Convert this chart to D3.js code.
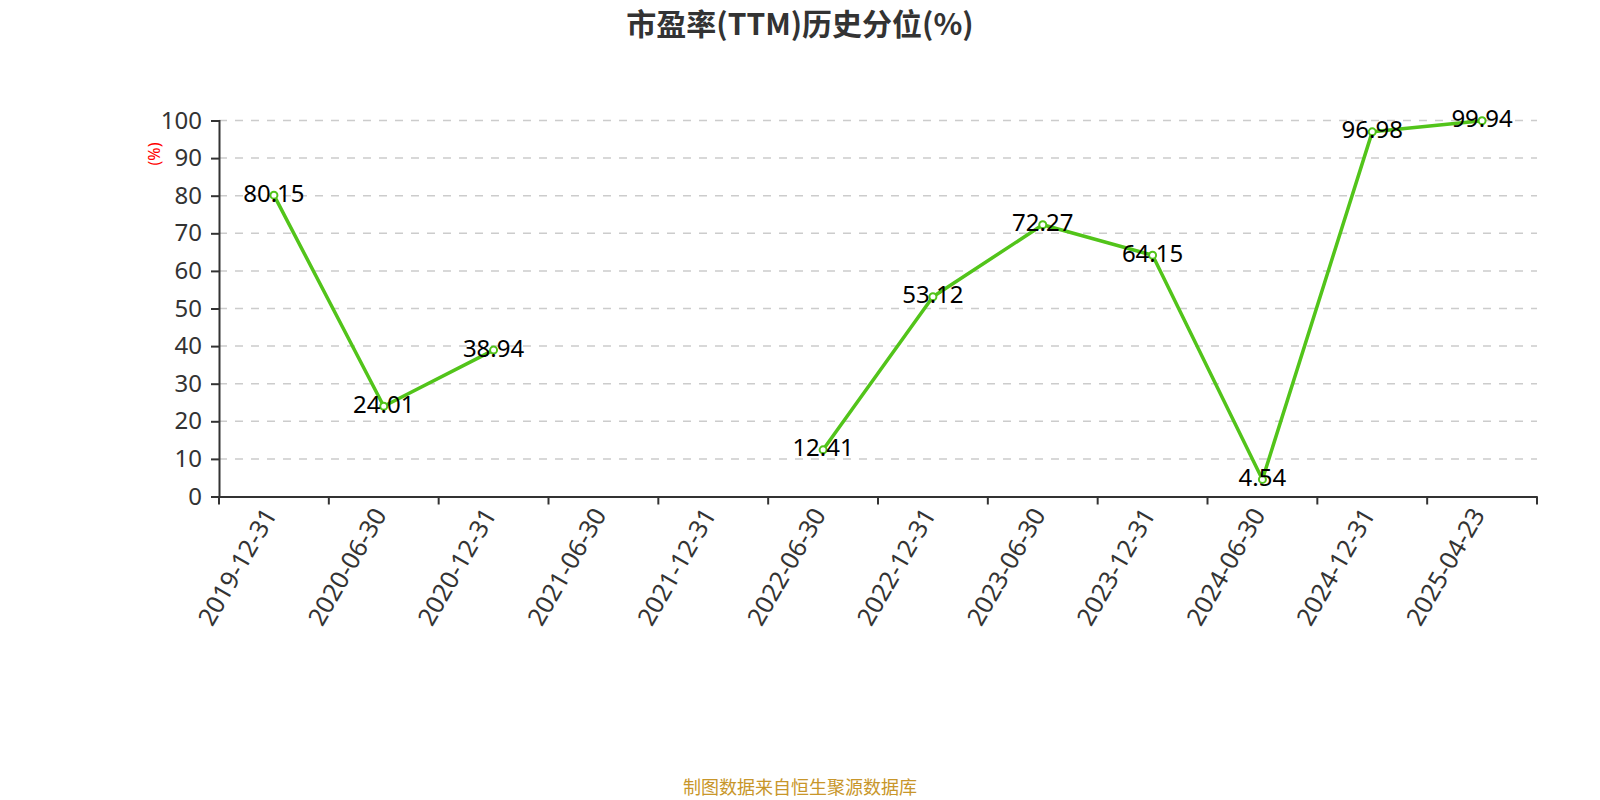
<!DOCTYPE html>
<html><head><meta charset="utf-8">
<script src="https://cdn.jsdelivr.net/npm/d3@7/dist/d3.min.js"></script>
<style>body{margin:0;background:#fff}svg{display:block}</style>
</head><body>
<svg id="c" width="1600" height="800"></svg>
<script>
const categories = ["2019-12-31","2020-06-30","2020-12-31","2021-06-30","2021-12-31","2022-06-30","2022-12-31","2023-06-30","2023-12-31","2024-06-30","2024-12-31","2025-04-23"];
const values = [80.15, 24.01, 38.94, null, null, 12.41, 53.12, 72.27, 64.15, 4.54, 96.98, 99.94];
const yTicks = [0,10,20,30,40,50,60,70,80,90,100];
const title = "市盈率(TTM)历史分位(%)";
const yName = "(%)";
const footer = "制图数据来自恒生聚源数据库";

const font = "'Noto Sans','Noto Sans CJK SC',sans-serif";
const cjk = "'Noto Sans CJK SC','Noto Sans',sans-serif";
const svg = d3.select("#c").style("font-family", font);
const L = 219, R = 1537, T = 120.5, B = 496.5;
const x = d3.scaleBand().domain(categories).range([L, R]);
const y = d3.scaleLinear().domain([0, 100]).range([B, T]);
const color = "#52c41a";

svg.append("text").attr("x", 800).attr("y", 35).attr("text-anchor", "middle")
  .attr("font-family", cjk)
  .attr("font-size", 30).attr("font-weight", "bold").attr("fill", "#333").text(title);

// grid
svg.append("g").selectAll("line").data(yTicks.filter(d => d > 0)).join("line")
  .attr("x1", L).attr("x2", R).attr("y1", d => y(d)).attr("y2", d => y(d))
  .attr("stroke", "#ccc").attr("stroke-width", 1.5).attr("stroke-dasharray", "8,8");

// y axis
const ya = svg.append("g").attr("transform", `translate(${L},0)`)
  .call(d3.axisLeft(y).tickValues(yTicks).tickSize(8).tickPadding(9));
ya.select(".domain").attr("stroke", "#333").attr("stroke-width", 2);
ya.selectAll(".tick line").attr("stroke", "#333").attr("stroke-width", 2);
ya.selectAll(".tick text").attr("font-size", 24).attr("fill", "#333").attr("font-family", font);

// x axis
const xa = svg.append("g").attr("transform", `translate(0,${B})`)
  .call(d3.axisBottom(x).tickSize(0).tickFormat(""));
xa.select(".domain").attr("stroke", "#333").attr("stroke-width", 2);
const bounds = categories.map(c => x(c)).concat([R]);
xa.append("g").selectAll("line").data(bounds).join("line")
  .attr("x1", d => d).attr("x2", d => d).attr("y1", 0).attr("y2", 8)
  .attr("stroke", "#333").attr("stroke-width", 2);
xa.append("g").selectAll("text").data(categories).join("text")
  .attr("transform", d => `translate(${x(d) + x.bandwidth()/2 - 5},${13}) rotate(-60)`)
  .attr("text-anchor", "end").attr("dominant-baseline", "central")
  .attr("font-size", 25).attr("fill", "#333").attr("font-family", font).text(d => d);

// y name
svg.append("text").attr("transform", `translate(154,154) rotate(-90)`)
  .attr("text-anchor", "middle").attr("dominant-baseline", "central")
  .attr("font-size", 16).attr("fill", "red").text(yName);

const cx = i => x(categories[i]) + x.bandwidth()/2;
const pts = values.map((v, i) => ({i, v})).filter(d => d.v !== null);

const line = d3.line().defined(d => d.v !== null).x(d => cx(d.i)).y(d => y(d.v));
svg.append("path").datum(values.map((v, i) => ({i, v})))
  .attr("d", line).attr("fill", "none").attr("stroke", color).attr("stroke-width", 3.5)
  .attr("stroke-linejoin", "round");

svg.append("g").selectAll("circle").data(pts).join("circle")
  .attr("cx", d => cx(d.i)).attr("cy", d => y(d.v)).attr("r", 3.5)
  .attr("fill", "#fff").attr("stroke", color).attr("stroke-width", 2);

svg.append("g").selectAll("text").data(pts).join("text")
  .attr("x", d => cx(d.i)).attr("y", d => y(d.v) - 3).attr("text-anchor", "middle")
  .attr("dominant-baseline", "central").attr("font-size", 24).attr("fill", "#000")
  .text(d => d.v.toFixed(2));

svg.append("text").attr("x", 800).attr("y", 786).attr("text-anchor", "middle")
  .attr("font-family", cjk)
  .attr("dominant-baseline", "central").attr("font-size", 18).attr("fill", "#c8962a").text(footer);
</script>
</body></html>
